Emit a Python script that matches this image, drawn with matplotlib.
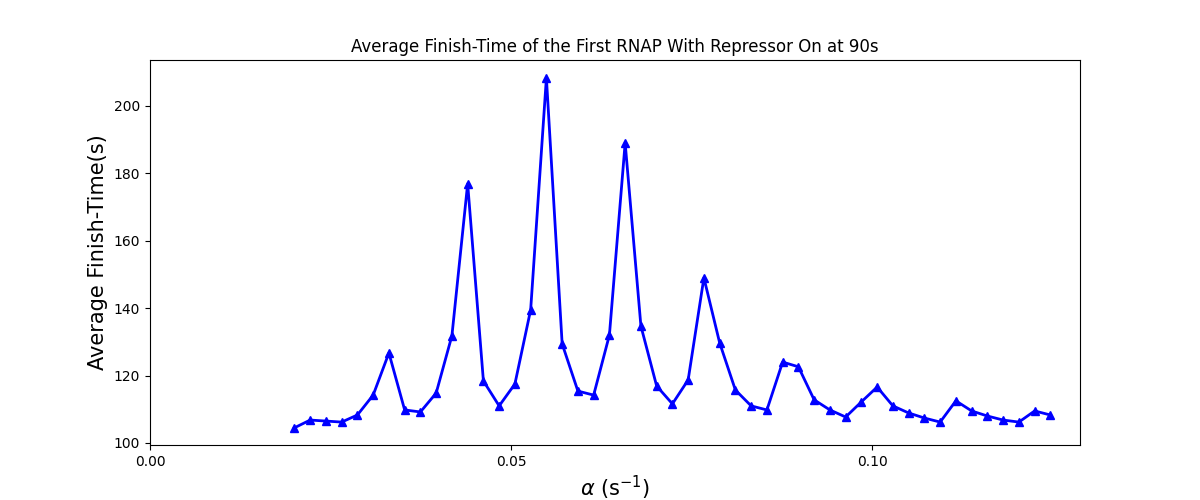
import numpy as np
import matplotlib.pyplot as plt

alpha = np.linspace(0.02, 0.1247, 49)
finish_time = [104.5, 106.8, 106.5, 106.2, 108.3, 114.2, 126.7, 109.8, 109.2, 114.8,
               131.8, 176.9, 118.4, 111.0, 117.5, 139.5, 208.3, 129.4, 115.4, 114.2,
               132.0, 189.0, 134.7, 116.9, 111.6, 118.7, 149.0, 129.7, 115.7, 111.0,
               109.8, 124.0, 122.6, 112.8, 109.8, 107.7, 112.2, 116.6, 111.0, 108.9,
               107.4, 106.2, 112.5, 109.5, 108.0, 106.8, 106.2, 109.5, 108.3]

fig, ax = plt.subplots(figsize=(12, 5), dpi=100)
fig.subplots_adjust(left=0.125, right=0.9, top=0.88, bottom=0.11)
ax.plot(alpha, finish_time, color='blue', marker='^', linewidth=2, markersize=6)
ax.set_xlim(0, 0.1288)
ax.set_ylim(99.4, 213.6)
ax.set_xticks([0.0, 0.05, 0.10])
ax.set_xticklabels(['0.00', '0.05', '0.10'])
ax.set_xlabel(r'$\alpha$ (s$^{-1}$)', fontsize=15)
ax.set_ylabel('Average Finish-Time(s)', fontsize=15)
ax.set_title('Average Finish-Time of the First RNAP With Repressor On at 90s')
plt.savefig('out.png')
